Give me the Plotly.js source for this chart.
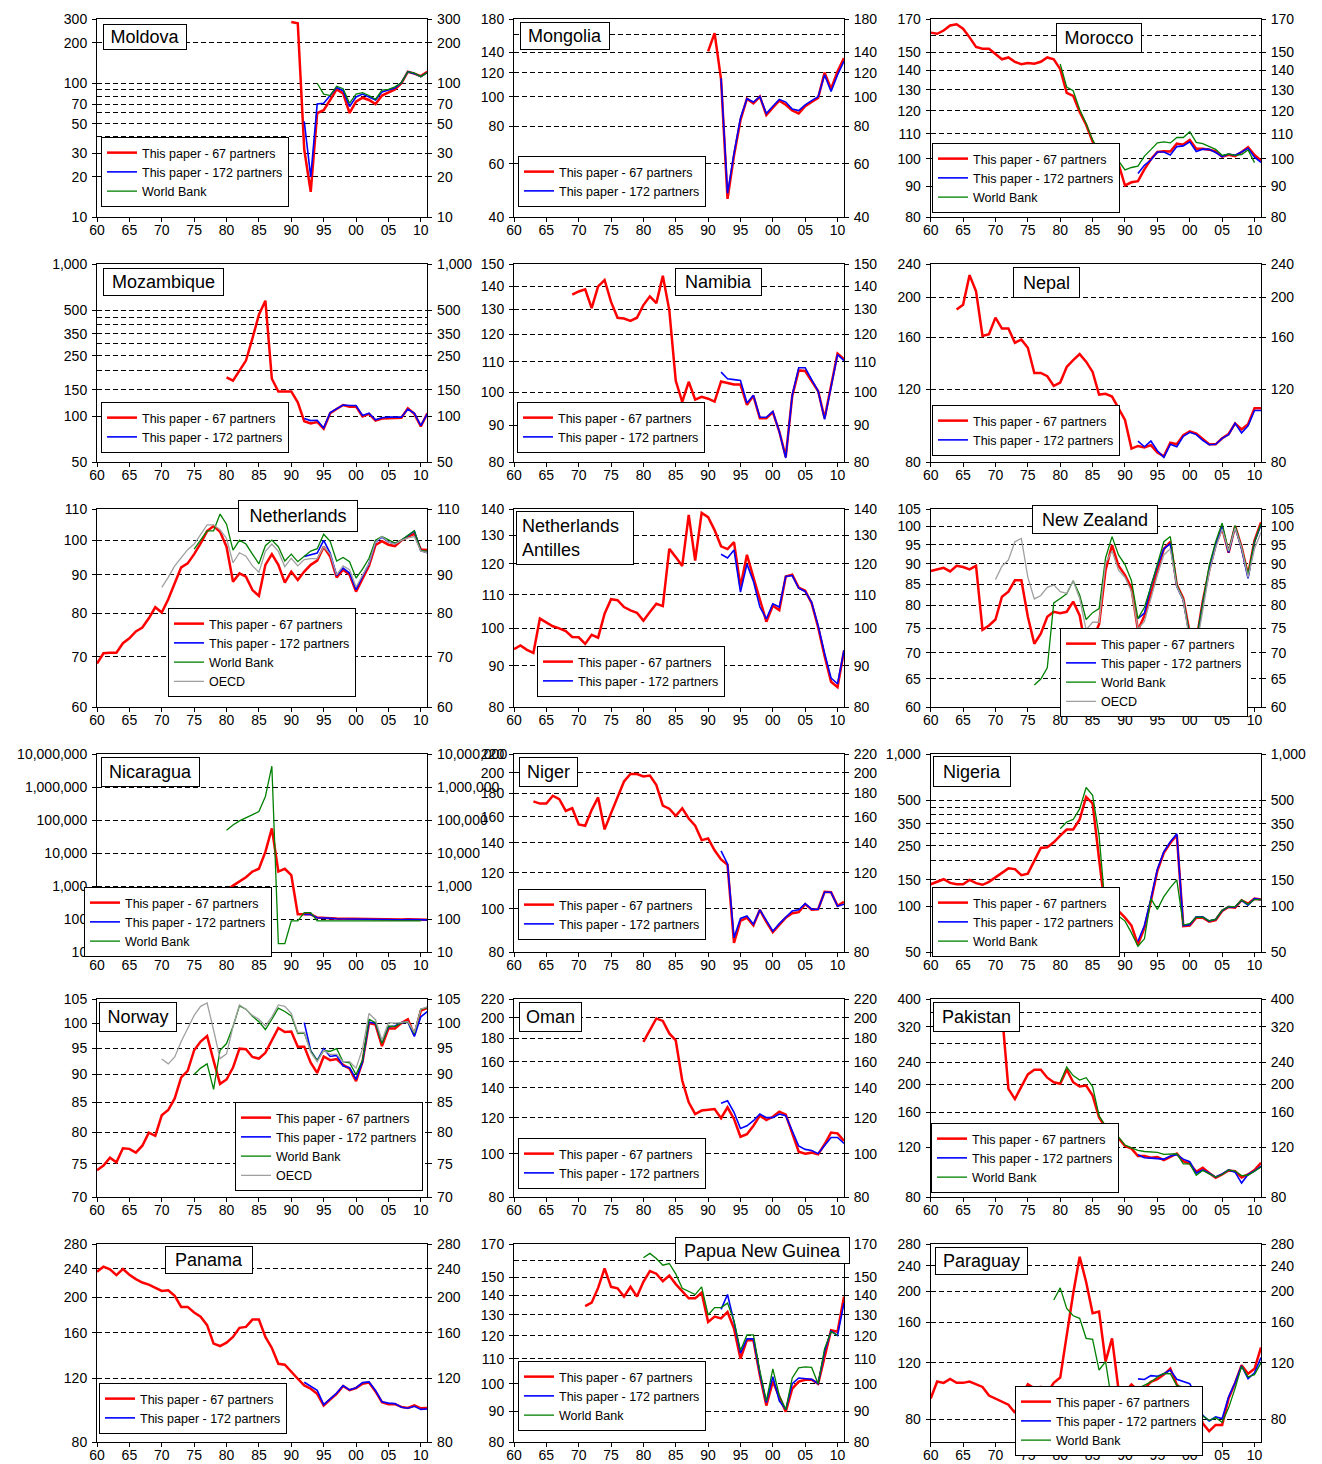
<!DOCTYPE html>
<html><head><meta charset="utf-8">
<script src="https://cdn.plot.ly/plotly-3.0.1.min.js"></script>
<style>html,body{margin:0;padding:0;background:#fff;}#chart{width:1322px;height:1464px;}</style>
</head><body><div id="chart"></div>
<script>
// ---------------- DATA ----------------
const YEARS = [1960,1961,1962,1963,1964,1965,1966,1967,1968,1969,1970,1971,1972,1973,1974,1975,1976,1977,1978,1979,
  1980,1981,1982,1983,1984,1985,1986,1987,1988,1989,1990,1991,1992,1993,1994,1995,1996,1997,1998,1999,
  2000,2001,2002,2003,2004,2005,2006,2007,2008,2009,2010,2011];
const XTICK_YEARS = [1960,1965,1970,1975,1980,1985,1990,1995,2000,2005,2010];
const XTICK_TEXT = ['60','65','70','75','80','85','90','95','00','05','10'];
const SERIES_NAMES = ['This paper - 67 partners','This paper - 172 partners','World Bank','OECD'];

// Each country: first year of each series, then series values (67 partners, 172 partners, World Bank, OECD)
const MOLDOVA_FROM = [1990, 1992, 1994];
const MOLDOVA_P67 = [286,280,32,15.5,60,63,75,90,84,60,73,78,75,70,81,86,90,100,122,118,113,122];
const MOLDOVA_P172 = [52,20,70,71,81,93,88,67,79,83,79,75,86,89,92,101,122,118,112,120];
const MOLDOVA_WB = [100,83,81,95,91,71,83,85,81,76,89,90,94,101,122,119,112,120];
const MOLDOVA_YTICKS = [10,20,30,50,70,100,200,300];
const MOLDOVA_YGRID = [40,60,80,90];

const MONGOLIA_FROM = [1990, 1992];
const MONGOLIA_P67 = [141,162,114,46,64,83.6,98.5,95,100,87,92,97,94,90,88,93,96,99,120,106,121,134];
const MONGOLIA_P172 = [115,48,65,85,98.5,96,100,88,93,98,96,91,90,94,97,100,118,104,118,131];
const MONGOLIA_YTICKS = [40,60,80,100,120,140,180];
const MONGOLIA_YGRID = [160];

const MOROCCO_FROM = [1960, 1992, 1980];
const MOROCCO_P67 = [161.6,160.9,162.9,166.1,166.8,164,158.7,153,152,152,149,146,147,144.6,143.3,143.9,143.5,144.6,147,146,
  140.6,128.5,127,119.5,113.8,106.7,102.6,99.7,97.5,98,90.3,91.4,91.8,96,99.8,102.6,102.9,102.8,105.9,105.5,
  107.4,103.9,103.9,103.5,102.8,100.8,101.5,101,102.6,104.5,101.4,99.3];
const MOROCCO_P172 = [94.5,97.5,99.5,102.6,102.6,101.4,104.7,105,106.6,102.8,103.7,103.6,102.4,100.8,101.8,101.3,102.6,104,100.6,98.6];
const MOROCCO_WB = [143.4,131.3,129.5,120.6,114.3,107.4,102.9,99.9,98.8,99.2,95.8,96.7,97.2,101,103.5,106.2,106.6,106.2,108.4,108.4,
  110.8,106.4,105.9,104.9,103.6,101.3,101.8,101.3,101.6,103.4,98.5];
const MOROCCO_YTICKS = [80,90,100,110,120,130,140,150,170];
const MOROCCO_YGRID = [160];

const MOZAMBIQUE_FROM = [1980, 1992];
const MOZAMBIQUE_P67 = [181,172,200,233,326,466,577,177,146,146,146,124,93,90,92,83,105,112,119,116,116,100,104,94,97,97.5,98,98,113,104,86,105];
const MOZAMBIQUE_P172 = [97,94,94.5,84,106,113,119,118,118,101.5,105,95,98,99,99,99,112,105,87,104];
const MOZAMBIQUE_YTICKS = [50,100,150,250,350,500,1000];
const MOZAMBIQUE_YGRID = [200,300,400,450];

const NAMIBIA_FROM = [1969, 1992];
const NAMIBIA_P67 = [136.2,137.6,138.5,130.5,139.8,142.7,133.1,126.6,126.3,125.3,126.6,131.8,135.5,132.6,144.6,129.7,103.6,96.9,103.3,97.6,
  98.5,97.9,97,103.4,102.9,102.4,102.4,96,98.8,92,92,93.8,88.2,81.4,98.8,107.1,106.9,103.6,100.3,92,102,113,111];
const NAMIBIA_P172 = [106.5,104.3,104,103.7,96.6,99,92.3,92.3,94,88.2,81.1,99,108,108,104,100.3,91.7,102,112.6,110.5];
const NAMIBIA_YTICKS = [80,90,100,110,120,130,140,150];
const NAMIBIA_YGRID = [];

const NEPAL_FROM = [1964, 1992];
const NEPAL_P67 = [186.8,191.7,226,206.6,161.2,162.8,178.5,168,168,155.3,158,151,131.3,131.3,129,122.2,124.5,135.8,141,145.8,
  139.8,132.1,116.5,117,115.2,108.1,101.2,86.3,87.6,86.9,88,84.5,82.7,89.2,88.4,93,95,93.8,91,88.4,88.4,91.4,93.6,99.3,96,98.8,108,108];
const NEPAL_P172 = [90,87.2,90,85.3,82.2,88.4,87.2,92.4,94.5,93.3,90.4,88.2,88.4,91.4,93.3,99.3,94.2,98,106.6,106.6];
const NEPAL_YTICKS = [80,120,160,200,240];
const NEPAL_YGRID = [];

const NETHERLANDS_FROM = [1960, 1992, 1975, 1970];
const NETHERLANDS_P67 = [68.6,70.8,70.9,70.9,73.0,74.1,75.7,76.6,78.8,81.5,80.2,83.5,87.7,92.1,93.2,95.9,99.1,102.9,104.5,102.7,
  98.1,88.1,90.4,89.5,85.9,84.4,92.8,95.9,92.8,87.9,90.9,88.6,90.9,92.8,94.0,98.1,95.2,89.3,91.4,90.0,
  85.5,89.1,92.5,98.6,99.8,98.7,98.3,100,101.0,102.1,97.3,97.1];
const NETHERLANDS_P172 = [95.2,95.7,96.2,100,96.2,89.8,91.9,90.5,86.0,89.6,93.1,99.5,101,99.5,99,100,101.4,102.9,96.9,96.3];
const NETHERLANDS_WB = [97.4,100.1,103.0,103.0,108.4,105.1,97.1,100.1,98.9,95.9,93.1,98.4,100.1,98.1,93.9,95.9,93.7,95.3,96.8,97.5,
  101.9,99.7,93.9,94.9,93.7,89.1,91.6,94.7,100.1,101.2,100.1,99.2,100.1,101.4,103.0,96.9,96.8];
const NETHERLANDS_OECD = [86.6,89.3,92.5,94.7,97.2,98.9,101.7,104.9,104.9,103.3,100.6,93.4,96.3,95.3,92.5,90.7,96.7,98.9,96.7,92.3,
  94.7,92.5,94.3,94.6,94.6,98.1,95.9,90.0,92.5,91.4,86.7,89.8,93.2,99.5,101.2,99.5,98.9,100,100.8,101.2,96.8,96.3];
const NETHERLANDS_YTICKS = [60,70,80,90,100,110];
const NETHERLANDS_YGRID = [];

const ANTILLES_FROM = [1960, 1992];
const ANTILLES_P67 = [94.3,95.3,94.1,93.3,102.8,101.8,100.6,100,99.2,97.6,97.5,95.7,98.2,97.4,104.2,108.6,108.3,106.2,105.2,104.5,
  102.2,104.7,107.2,106.5,125.2,122.3,119.3,137.8,121.1,138.6,136.9,132,126.1,125.1,127.6,112.5,123.1,115.5,108.4,101.9,
  106.6,105.3,115.8,116.4,112.2,111.2,107.4,100.3,92.5,86.0,84.7,93.9];
const ANTILLES_P172 = [123.3,122,124.8,110.8,119.9,114.2,106.2,102.7,107.2,106.2,115.8,116.1,112,111,107.6,100.8,93.2,86.9,85.5,94];
const ANTILLES_YTICKS = [80,90,100,110,120,130,140];
const ANTILLES_YGRID = [];

const NEWZEALAND_FROM = [1960, 1992, 1976, 1970];
const NEWZEALAND_P67 = [88.2,88.6,89,88.1,89.5,89.2,88.6,89.5,74.7,75.6,76.9,82,83.2,85.9,85.9,77.5,71.8,73.9,77.5,78.6,
  78.3,78.6,80.9,77.8,70.4,72.7,75.9,88.4,94.9,89.5,87.2,84.0,74.6,77.7,82.8,88.4,93.9,95.8,84.8,81.6,
  73.9,72.2,80.9,88.4,94.9,99.6,92.9,100.1,94.4,87.2,96.1,101.2];
const NEWZEALAND_P172 = [77.1,78.3,84.4,89.5,93.9,95.3,84.4,81.2,73.1,72,80.5,88.4,94.9,99.9,92.9,99.9,93.9,86.4,95.8,100.4];
const NEWZEALAND_WB = [63.9,65.0,67.1,80.6,81.6,82.7,85.8,82.4,76.9,78.4,79.3,91.5,97.2,92.3,89.8,85.8,77.1,79.6,84.4,89.8,
  95.8,97.2,84.8,81.4,73.5,72.4,80.9,89.6,95.8,101,93.3,100.3,94.2,87.4,95.8,100.8];
const NEWZEALAND_OECD = [86.1,89.4,91.0,95.8,96.7,86.6,81.5,82.3,84.2,84.8,83.2,82.8,85.8,81.6,74.7,76.3,76.3,90.2,93.3,88.4,
  86.6,83.2,74.9,76.5,81.6,87.2,92.3,93.9,84.4,81.2,72.2,71,78.8,87.8,94.2,99.3,93.3,99.6,94.2,86.6,93.9,98.4];
const NEWZEALAND_YTICKS = [60,65,70,75,80,85,90,95,100,105];
const NEWZEALAND_YGRID = [];

const NICARAGUA_FROM = [1969, 1992, 1980];
const NICARAGUA_P67 = [269,330,410,490,550,545,545,540,540,520,625,740,1050,1380,1890,2800,3400,11000,57000,2800,
  3400,2200,142,142,142,113,113,108,105,104,104,105,103,100,98,97,98,97,98,100,100,98,97];
const NICARAGUA_P172 = [140,140,112,112,107,104,103,103,104,102,99,97,96,97,96,97,99,99,97,96];
const NICARAGUA_WB = [50000,72000,96000,120000,152000,184000,527000,4370000,18.4,18.4,89,89,160,160,89,89,89,89,89,89,
  89,89,89,89,89,89,89,89,89,89,89];
const NICARAGUA_YTICKS = [10,100,1000,10000,100000,1000000,10000000];
const NICARAGUA_YGRID = [];

const NIGER_FROM = [1963, 1992];
const NIGER_P67 = [173,171,171,178,175,164.7,167,153.8,152.7,165.5,176.5,149.9,162.9,176.5,191.5,198.9,198.9,
  196.5,197.3,187.9,169.2,166.6,160.7,167,158.5,152.7,141.9,143.1,134.7,128.6,125.1,83.9,93.9,95.5,91.8,99.4,93.4,
  88.7,92.3,95.5,97.7,98.2,102.3,99.4,99.7,109,108.7,101.5,103.5];
const NIGER_P172 = [134.3,125.7,86.2,95.1,96.3,92.3,99.4,93.9,89.1,92.6,95.5,98.8,99.4,102.6,99.7,99.7,108.7,108.7,101.2,102.3];
const NIGER_YTICKS = [80,100,120,140,160,180,200,220];
const NIGER_YGRID = [];

const NIGERIA_FROM = [1960, 1992, 1980];
const NIGERIA_P67 = [140,146,151,143,140,140,149.5,142.4,138.9,145.1,155,167.5,178,176,160.5,164.5,200,242.5,245,264,
  292,320.5,320.5,373,525,475,205,91,99.8,93.4,84.4,75,56.2,72.4,108.7,171.5,225,261.5,295,74.3,
  75,84.4,84.4,79.4,81.4,93.4,99.2,98.3,109.9,104.4,112.6,111];
const NIGERIA_P172 = [59.1,75,112.6,176,229,266,300,75,76,85.5,85.5,80.2,82.3,94,99.8,99.2,109.9,102,112.6,111];
const NIGERIA_WB = [324.5,359,373,438,605,538,292,93.4,96.7,86.5,80.2,67.1,54.8,61.3,112.6,95.7,116,133.2,149.7,75.5,
  77.1,85,85,80.6,82.3,94.4,99.8,99.8,110.4,103.3,111.1,111];
const NIGERIA_YTICKS = [50,100,150,250,350,500,1000];
const NIGERIA_YGRID = [200,300,400,450];

const NORWAY_FROM = [1960, 1992, 1975, 1970];
const NORWAY_P67 = [74.0,74.7,75.9,75.2,77.4,77.3,76.7,77.8,79.9,79.4,82.8,83.7,85.7,89.5,90.7,94.6,96.3,97.4,92.6,88.3,
  89.1,91.3,94.9,94.8,93.3,93.0,94.1,96.5,99.0,98.2,98.3,95.3,95.3,92.2,90.3,93.4,92.7,92.9,91.8,91.1,
  88.8,92.4,100.0,99.7,95.4,98.9,98.9,100,100.8,97.6,102.6,103.2];
const NORWAY_P172 = [100.1,94.5,92.6,94.9,93.4,93.6,91.6,91.3,89.1,92.4,100.2,100,96.1,99.2,99.4,100.1,100.2,97.3,101.3,102.4];
const NORWAY_WB = [90.0,91.2,92.0,87.3,94.6,95.9,99.3,103.6,102.9,101.4,100.3,98.7,100.8,103.1,102.4,101.5,97.9,98.0,94.5,92.6,
  94.5,94.4,94.9,92.4,92.2,90.0,92.7,100.8,100.1,95.9,99.4,99.3,100.1,100.2,97.9,102.9,103.2];
const NORWAY_OECD = [92.9,92.0,93.3,96.3,98.9,101.6,103.5,104.2,98.6,93.0,93.9,99.3,103.8,102.9,101.6,100.8,99.4,101.3,103.8,103.5,
  102,98.1,98.1,94.2,92.4,94.6,93.8,93.8,92.4,92.4,91.2,94.9,102,100.7,96.5,100.1,100,100.1,100.3,98.1,102.9,103.4];
const NORWAY_YTICKS = [70,75,80,85,90,95,100,105];
const NORWAY_YGRID = [];

const OMAN_FROM = [1980, 1992];
const OMAN_P67 = [177,188,199.5,197,184.8,178.3,145.3,130,122.4,124.6,125,125.6,119.9,126.7,119.4,109,110.4,115.3,121.4,118.7,
  120.7,123.9,122,110.4,101,100,100.5,99.6,104.9,111.4,110.9,106.7];
const OMAN_P172 = [129.4,131,123.5,113.7,115.3,118.3,122.4,120.2,120.2,122.4,121.4,112.3,104,102.2,101.6,100,104,108.6,108.6,105.3];
const OMAN_YTICKS = [80,100,120,140,160,180,200,220];
const OMAN_YGRID = [];

const PAKISTAN_FROM = [1971, 1992, 1980];
const PAKISTAN_P67 = [360,193,177.8,196.9,217.3,225.6,225.6,211.5,203.8,201.3,226,203.8,196.9,198.5,182.8,153,141.1,138,130,
  121.4,118.8,111.9,111.9,110.4,111,108.3,111.2,114.1,107.4,105.3,98.4,101.7,97.4,93.8,96.3,99.5,99,94,96.3,99.9,105.9];
const PAKISTAN_P172 = [113.1,110.4,110,109.7,109.1,111.9,113.1,109.1,106.8,97.4,99.9,97.4,94.3,96.8,99.9,98.1,89.8,96.3,99,103];
const PAKISTAN_WB = [203.8,230.6,215.2,207.4,211.5,196.9,155,143,139.5,131,122.3,119.5,117.2,116.1,115.8,115.3,113.4,113.4,114,104.9,
  104.9,95.7,99.5,96.8,94.3,96.3,99.9,99,95.4,95.7,99,102.4];
const PAKISTAN_YTICKS = [80,120,160,200,240,320,400];
const PAKISTAN_YGRID = [280,360];

const PANAMA_FROM = [1960, 1992];
const PANAMA_P67 = [235.4,243,239,230.4,239.5,231,224.6,219.8,217,212.8,208.5,209.3,202,188.4,188.4,181.9,177,167.9,149.4,147.1,
  150.3,155.8,165,166,173.9,173.9,155.8,145.3,131.5,130.7,124.8,119.6,114.6,112.3,108.7,101,104.9,108.7,114.2,111.2,
  112.7,115.9,116.7,110.4,103.1,101.8,101.8,100.1,99.4,101,99.2,99.4];
const PANAMA_P172 = [117,114.2,111.1,101.5,105.5,109.2,114.6,111.5,113,116.7,117.2,111,103.4,102.5,102.2,99.9,99.2,100.5,98.5,98.8];
const PANAMA_YTICKS = [80,120,160,200,240,280];
const PANAMA_YGRID = [];

const PNG_FROM = [1971, 1992, 1980];
const PNG_P67 = [134.3,136.1,144,155.1,144.6,143.8,139.3,144.6,139.3,147.4,153.5,152,147.7,150.9,146.1,142,138.4,138.4,141.4,
  126.5,129.1,128.2,131.4,123.4,110,118,118,103.2,92,100.8,95,89.9,98.1,100.8,101.5,101.5,100,111.4,122.6,121.9,139.3];
const PNG_P172 = [132.7,140.4,126.5,112.3,118.6,118.6,104,93.1,102.7,93.7,90.6,100,102.2,101.9,101.7,100,113.1,122.2,120.2,136];
const PNG_WB = [161.5,164.2,161.1,157,158,151.9,143.8,142,140.4,144.6,129.9,133.6,133.6,135.9,127.1,113.5,120.4,120.4,104.9,93.7,
  105.8,95.6,90.6,102.2,106.2,106.6,106.4,100,114.3,121.9,120.2];
const PNG_YTICKS = [80,90,100,110,120,130,140,150,170];
const PNG_YGRID = [160];

const PARAGUAY_FROM = [1960, 1992, 1979];
const PARAGUAY_P67 = [93,105,104,107,104,104,105,103,101,95,93,91,89,84,95,103,100,101,97,104,
  108,146,197,256,214,171,173,121,143,99,97.5,102.7,98.6,99.8,104.7,106.7,110.3,115.2,102.7,97.5,
  96.3,88.7,77.9,73.6,77,77,93,104,118,111,115,134];
const PARAGUAY_P172 = [107,106.5,109.5,109,111,114,106.7,105.2,103.4,94.4,82.5,79.2,81.5,80.6,94.1,104.2,117.5,107.2,111.8,124.7];
const PARAGUAY_WB = [188,205,177,168,165,143,142,114,121,90,89,98.6,97.5,99.8,102.7,104.7,108.5,111.2,111,102,
  101,99.8,94,82,79.6,81,78.5,87,100,117,108.5,110.3,120];
const PARAGUAY_YTICKS = [80,120,160,200,240,280];
const PARAGUAY_YGRID = [];

// ---------------- LAYOUT CONFIG ----------------
const W = 1322, H = 1464;
const COL_X = [[97, 427.3], [514, 844], [930.7, 1261]];
const ROW_TOP0 = 19.3, ROW_H = 198, ROW_STEP = 245;
const COLORS = ['#FF0000', '#0000FF', '#008000', '#A0A0A0'];
const WIDTHS = [2.5, 1.6, 1.3, 1.3];

const PANELS = [
  {title:'Moldova', from:MOLDOVA_FROM, series:[MOLDOVA_P67,MOLDOVA_P172,MOLDOVA_WB], yr:[10,300], ticks:MOLDOVA_YTICKS, grid:MOLDOVA_YGRID, box:[103,24,187,50], leg:[101,207]},
  {title:'Mongolia', from:MONGOLIA_FROM, series:[MONGOLIA_P67,MONGOLIA_P172], yr:[40,180], ticks:MONGOLIA_YTICKS, grid:MONGOLIA_YGRID, box:[520,22,610,50], leg:[518,207]},
  {title:'Morocco', from:MOROCCO_FROM, series:[MOROCCO_P67,MOROCCO_P172,MOROCCO_WB], yr:[80,170], ticks:MOROCCO_YTICKS, grid:MOROCCO_YGRID, box:[1056,23,1142,53], leg:[932,213]},
  {title:'Mozambique', from:MOZAMBIQUE_FROM, series:[MOZAMBIQUE_P67,MOZAMBIQUE_P172], yr:[50,1000], ticks:MOZAMBIQUE_YTICKS, grid:MOZAMBIQUE_YGRID, box:[103,268,224,296], leg:[101,453]},
  {title:'Namibia', from:NAMIBIA_FROM, series:[NAMIBIA_P67,NAMIBIA_P172], yr:[80,150], ticks:NAMIBIA_YTICKS, grid:NAMIBIA_YGRID, box:[675,268,762,296], leg:[517,453]},
  {title:'Nepal', from:NEPAL_FROM, series:[NEPAL_P67,NEPAL_P172], yr:[80,240], ticks:NEPAL_YTICKS, grid:NEPAL_YGRID, box:[1013,267,1080,298], leg:[932,456]},
  {title:'Netherlands', from:NETHERLANDS_FROM, series:[NETHERLANDS_P67,NETHERLANDS_P172,NETHERLANDS_WB,NETHERLANDS_OECD], yr:[60,110], ticks:NETHERLANDS_YTICKS, grid:NETHERLANDS_YGRID, box:[238,500,358,532], leg:[168,697]},
  {title:'Netherlands<br>Antilles', from:ANTILLES_FROM, series:[ANTILLES_P67,ANTILLES_P172], yr:[80,140], ticks:ANTILLES_YTICKS, grid:ANTILLES_YGRID, box:[516,511,634,565], leg:[537,697], left:true},
  {title:'New Zealand', from:NEWZEALAND_FROM, series:[NEWZEALAND_P67,NEWZEALAND_P172,NEWZEALAND_WB,NEWZEALAND_OECD], yr:[60,105], ticks:NEWZEALAND_YTICKS, grid:NEWZEALAND_YGRID, box:[1032,505,1158,534], leg:[1060,717]},
  {title:'Nicaragua', from:NICARAGUA_FROM, series:[NICARAGUA_P67,NICARAGUA_P172,NICARAGUA_WB], yr:[10,10000000], ticks:NICARAGUA_YTICKS, grid:NICARAGUA_YGRID, box:[101,757,200,787], leg:[84,957]},
  {title:'Niger', from:NIGER_FROM, series:[NIGER_P67,NIGER_P172], yr:[80,220], ticks:NIGER_YTICKS, grid:NIGER_YGRID, box:[519,757,578,787], leg:[518,940]},
  {title:'Nigeria', from:NIGERIA_FROM, series:[NIGERIA_P67,NIGERIA_P172,NIGERIA_WB], yr:[50,1000], ticks:NIGERIA_YTICKS, grid:NIGERIA_YGRID, box:[933,756,1011,787], leg:[932,957]},
  {title:'Norway', from:NORWAY_FROM, series:[NORWAY_P67,NORWAY_P172,NORWAY_WB,NORWAY_OECD], yr:[70,105], ticks:NORWAY_YTICKS, grid:NORWAY_YGRID, box:[99,1002,177,1032], leg:[235,1191]},
  {title:'Oman', from:OMAN_FROM, series:[OMAN_P67,OMAN_P172], yr:[80,220], ticks:OMAN_YTICKS, grid:OMAN_YGRID, box:[519,1002,582,1032], leg:[518,1189]},
  {title:'Pakistan', from:PAKISTAN_FROM, series:[PAKISTAN_P67,PAKISTAN_P172,PAKISTAN_WB], yr:[80,400], ticks:PAKISTAN_YTICKS, grid:PAKISTAN_YGRID, box:[933,1002,1020,1032], leg:[931,1193]},
  {title:'Panama', from:PANAMA_FROM, series:[PANAMA_P67,PANAMA_P172], yr:[80,280], ticks:PANAMA_YTICKS, grid:PANAMA_YGRID, box:[165,1246,253,1274], leg:[99,1434]},
  {title:'Papua New Guinea', from:PNG_FROM, series:[PNG_P67,PNG_P172,PNG_WB], yr:[80,170], ticks:PNG_YTICKS, grid:PNG_YGRID, box:[675,1237,850,1264], leg:[518,1431]},
  {title:'Paraguay', from:PARAGUAY_FROM, series:[PARAGUAY_P67,PARAGUAY_P172,PARAGUAY_WB], yr:[68,280], ticks:PARAGUAY_YTICKS, grid:PARAGUAY_YGRID, box:[935,1247,1028,1275], leg:[1015,1456]}
];

function fmt(v){ return v >= 1000 ? v.toLocaleString('en-US') : String(v); }

const TICKFONT = {family:'Liberation Sans, Arial, sans-serif', size:14, color:'#000'};
const DASH = '5px,3px';

const traces = [];
const layout = {
  width: W, height: H, autosize: false,
  margin: {l:0, r:0, t:0, b:0, pad:0},
  paper_bgcolor: '#fff', plot_bgcolor: '#fff',
  hovermode: false, showlegend: true,
  font: {family:'Liberation Sans, Arial, sans-serif', color:'#000'},
  annotations: []
};

PANELS.forEach((p, i) => {
  const n = i + 1;
  const col = i % 3, row = Math.floor(i / 3);
  const xName = n === 1 ? 'xaxis' : 'xaxis' + n;
  const xId = n === 1 ? 'x' : 'x' + n;
  const yN1 = 2 * n - 1, yN2 = 2 * n;
  const yName = yN1 === 1 ? 'yaxis' : 'yaxis' + yN1;
  const yId = yN1 === 1 ? 'y' : 'y' + yN1;
  const y2Name = 'yaxis' + yN2, y2Id = 'y' + yN2;
  const legName = n === 1 ? 'legend' : 'legend' + n;
  const top = ROW_TOP0 + row * ROW_STEP, bot = top + ROW_H;
  const yrange = [Math.log10(p.yr[0]), Math.log10(p.yr[1])];
  const ytext = p.ticks.map(fmt);

  layout[xName] = {
    domain: [COL_X[col][0] / W, COL_X[col][1] / W], anchor: yId,
    range: [1960, 2011], tickmode: 'array', tickvals: XTICK_YEARS, ticktext: XTICK_TEXT,
    showline: true, linecolor: '#000', linewidth: 1, mirror: true,
    ticks: 'outside', ticklen: 4, tickcolor: '#000', tickwidth: 1, ticklabelstandoff: -4,
    showgrid: false, zeroline: false, tickfont: TICKFONT, automargin: false, fixedrange: true
  };
  layout[yName] = {
    domain: [1 - bot / H, 1 - top / H], anchor: xId, type: 'log', range: yrange,
    tickmode: 'array', tickvals: p.ticks, ticktext: ytext,
    showline: true, linecolor: '#000', linewidth: 1,
    ticks: 'outside', ticklen: 4, tickcolor: '#000', tickwidth: 1, ticklabelstandoff: 2,
    showgrid: true, gridcolor: '#000', gridwidth: 1, griddash: DASH,
    minor: {tickmode: 'array', tickvals: p.grid, showgrid: true, gridcolor: '#000', gridwidth: 1, griddash: DASH, ticks: ''},
    zeroline: false, tickfont: TICKFONT, automargin: false, fixedrange: true
  };
  layout[y2Name] = {
    anchor: xId, overlaying: yId, side: 'right', type: 'log', range: yrange,
    tickmode: 'array', tickvals: p.ticks, ticktext: ytext,
    showline: true, linecolor: '#000', linewidth: 1,
    ticks: 'outside', ticklen: 4, tickcolor: '#000', tickwidth: 1, ticklabelstandoff: 2,
    showgrid: false, zeroline: false, tickfont: TICKFONT, automargin: false, fixedrange: true
  };

  p.series.forEach((vals, k) => {
    const i0 = YEARS.indexOf(p.from[k]);
    traces.push({
      type: 'scatter', mode: 'lines',
      x: YEARS.slice(i0, i0 + vals.length), y: vals,
      xaxis: xId, yaxis: yId, name: SERIES_NAMES[k], legend: legName,
      line: {color: COLORS[k], width: WIDTHS[k]}, hoverinfo: 'skip'
    });
  });
  traces.push({type: 'scatter', mode: 'lines', x: [], y: [], xaxis: xId, yaxis: y2Id, showlegend: false, hoverinfo: 'skip'});

  layout[legName] = {
    x: p.leg[0] / W, y: 1 - p.leg[1] / H, xref: 'paper', yref: 'paper',
    xanchor: 'left', yanchor: 'bottom',
    bgcolor: '#fff', bordercolor: '#000', borderwidth: 1,
    font: {family: 'Liberation Sans, Arial, sans-serif', size: 12.5, color: '#000'},
    itemwidth: 30, tracegroupgap: 0
  };

  const b = p.box;
  const pad = p.left ? 5 : 1;
  layout.annotations.push({
    xref: 'paper', yref: 'paper', x: b[0] / W, y: 1 - b[1] / H,
    xanchor: 'left', yanchor: 'top', showarrow: false,
    text: p.title, align: p.left ? 'left' : 'center', valign: 'middle',
    width: (b[2] - b[0]) - 2 * (pad + 1), height: (b[3] - b[1]) - 2 * (pad + 1),
    font: {family: 'Liberation Sans, Arial, sans-serif', size: 18, color: '#000'},
    bgcolor: '#fff', bordercolor: '#000', borderwidth: 1, borderpad: pad
  });
});

Plotly.newPlot('chart', traces, layout, {staticPlot: true, displayModeBar: false});
</script></body></html>
